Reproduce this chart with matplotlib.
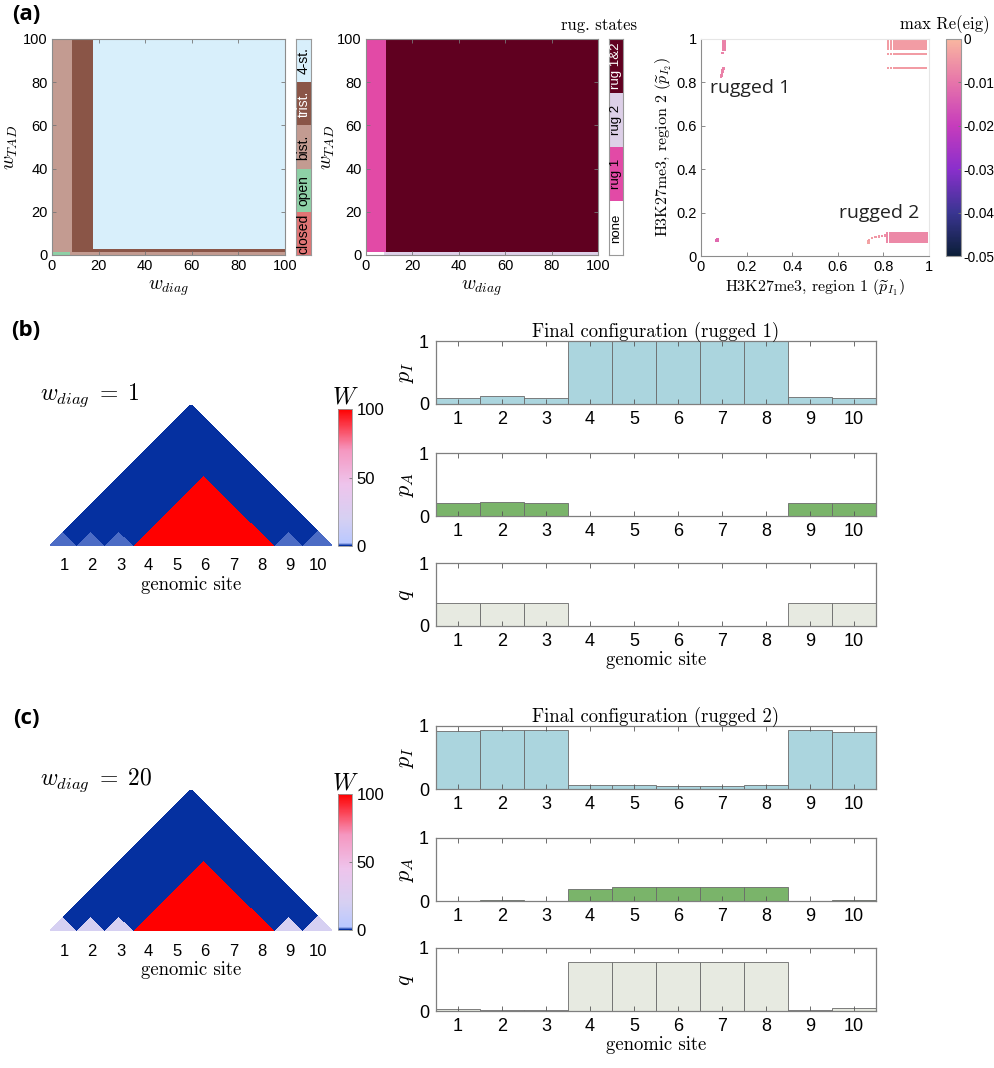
import numpy as np
import matplotlib
matplotlib.use('Agg')
import matplotlib.pyplot as plt
from matplotlib.colors import ListedColormap, BoundaryNorm, LinearSegmentedColormap, Normalize
from matplotlib.cm import ScalarMappable

plt.rcParams['mathtext.fontset'] = 'cm'
plt.rcParams['font.family'] = ['Liberation Sans', 'DejaVu Sans']
SERIF = 'cmr10'

# ---- (a) left: number of stable states over (w_diag, w_TAD)
st_names = ['closed', 'open', 'bist.', 'trist.', '4-st.']
st_colors = ['#e07575', '#8ed0a6', '#c39b91', '#8a5547', '#d8effb']
st_txt = ['k', 'k', 'k', 'w', 'k']
st_wdiag = [0, 7.7, 8.6, 17.6, 100]
st_wtad = [0, 1.4, 2.9, 100]
st_map = [[1, 2, 2, 2],
          [2, 2, 3, 3],
          [2, 2, 3, 4]]

# ---- (a) middle: rugged states
rug_names = ['none', 'rug 1', 'rug 2', 'rug 1&2']
rug_colors = ['#ffffff', '#e24aa6', '#ddd0e8', '#600020']
rug_txt = ['k', 'k', 'k', 'w']
rug_wdiag = [0, 7.9, 8.7, 100]
rug_wtad = [0, 1.4, 100]
rug_map = [[0, 2, 2],
           [1, 1, 3]]

# ---- (a) right: stable points (p_I1, p_I2) coloured by max Re(eig)
r1_x = [0.097, 0.103, 0.097, 0.103, 0.097, 0.103, 0.098, 0.103, 0.098, 0.103, 0.099, 0.104,
        0.095, 0.098, 0.096, 0.094, 0.092, 0.090, 0.088]
r1_y = [1.0, 1.0, 0.99, 0.99, 0.98, 0.98, 0.97, 0.97, 0.96, 0.96, 0.95, 0.95,
        0.935, 0.865, 0.857, 0.849, 0.841, 0.833, 0.826]
r1_c = -0.008
low_x = [0.068, 0.071, 0.072]
low_y = [0.071, 0.075, 0.069]
low_c = -0.012
arc_x = [0.735, 0.733, 0.738, 0.75, 0.765, 0.78, 0.795, 0.81]
arc_y = [0.062, 0.068, 0.075, 0.082, 0.087, 0.09, 0.093, 0.095]
arc_c = [-0.003, -0.003, -0.004, -0.004, -0.005, -0.005, -0.006, -0.006]
r2_cols = [0.815, 0.83, 0.84, 0.85, 0.86, 0.868, 0.875, 0.882, 0.889, 0.895, 0.9, 0.905, 0.91,
           0.915, 0.92, 0.925, 0.93, 0.935, 0.94, 0.945, 0.95, 0.955, 0.96, 0.965, 0.97,
           0.975, 0.98, 0.985, 0.99]
r2_rows = [0.064, 0.071, 0.078, 0.085, 0.092, 0.099, 0.105]
r2_c = -0.007
tr_cols = [0.82, 0.835, 0.845, 0.855, 0.865, 0.874, 0.882, 0.889, 0.895, 0.9, 0.905, 0.91,
           0.915, 0.92, 0.925, 0.93, 0.935, 0.94, 0.945, 0.95, 0.955, 0.96, 0.965, 0.97,
           0.975, 0.98, 0.985]
tr_rows = [0.865, 0.93, 0.952, 0.959, 0.966, 0.973, 0.98, 0.987, 0.994, 1.0]
tr_c = -0.004

# ---- (b), (c): interaction matrices and final configurations
sites = np.arange(1, 11)
tad_sites = [4, 5, 6, 7, 8]
w_tad = 100
w_diag_b = 1
w_diag_c = 20

pI_b = [0.10, 0.12, 0.10, 1.0, 1.0, 1.0, 1.0, 1.0, 0.11, 0.10]
pA_b = [0.21, 0.22, 0.20, 0, 0, 0, 0, 0, 0.20, 0.21]
q_b = [0.37, 0.37, 0.37, 0, 0, 0, 0, 0, 0.36, 0.36]
pI_c = [0.92, 0.94, 0.94, 0.06, 0.07, 0.05, 0.05, 0.07, 0.94, 0.91]
pA_c = [0.0, 0.01, 0.0, 0.19, 0.23, 0.22, 0.22, 0.22, 0.0, 0.01]
q_c = [0.03, 0.02, 0.02, 0.77, 0.77, 0.78, 0.77, 0.77, 0.02, 0.05]

W, H = 995, 1068
fig = plt.figure(figsize=(W / 100, H / 100), dpi=100)


def px_axes(x0, y0, x1, y1):
    return fig.add_axes([x0 / W, 1 - y1 / H, (x1 - x0) / W, (y1 - y0) / H])


def box_style(ax, size=10.5):
    for s in ax.spines.values():
        s.set_color('#8c8c8c')
        s.set_linewidth(0.8)
    ax.tick_params(direction='in', top=True, right=True, length=3, width=0.6,
                   color='#777777', labelsize=size, pad=3)


def cat_bar(cax, colors, names, txtc, fs=10):
    n = len(colors)
    cax.pcolormesh([0, 1], np.arange(n + 1), np.arange(n).reshape(-1, 1),
                   cmap=ListedColormap(colors), norm=BoundaryNorm(np.arange(-0.5, n + 0.5), n))
    for i, nm in enumerate(names):
        cax.text(0.5, i + 0.5, nm, rotation=90, ha='center', va='center', color=txtc[i], fontsize=fs)
    cax.set_xticks([])
    cax.set_yticks([])
    for s in cax.spines.values():
        s.set_color('#999999')
        s.set_linewidth(0.8)


# (a) left
ax = px_axes(52, 39, 285, 255)
ax.pcolormesh(st_wdiag, st_wtad, st_map, cmap=ListedColormap(st_colors),
              norm=BoundaryNorm(np.arange(-0.5, 5.5), 5))
ax.set_xlim(0, 100)
ax.set_ylim(0, 100)
ax.set_xticks(range(0, 101, 20))
ax.set_yticks(range(0, 101, 20))
box_style(ax)
ax.set_xlabel('$w_{diag}$', fontsize=14, labelpad=4)
ax.set_ylabel('$w_{TAD}$', fontsize=14, labelpad=2)
cat_bar(px_axes(296, 39, 311, 255), st_colors, st_names, st_txt)

# (a) middle
ax = px_axes(366, 39, 598, 255)
ax.pcolormesh(rug_wdiag, rug_wtad, rug_map, cmap=ListedColormap(rug_colors),
              norm=BoundaryNorm(np.arange(-0.5, 4.5), 4))
ax.set_xlim(0, 100)
ax.set_ylim(0, 100)
ax.set_xticks(range(0, 101, 20))
ax.set_yticks(range(0, 101, 20))
box_style(ax)
ax.set_xlabel('$w_{diag}$', fontsize=14, labelpad=4)
ax.set_ylabel('$w_{TAD}$', fontsize=14, labelpad=0)
cax = px_axes(609, 39, 623, 255)
cat_bar(cax, rug_colors, rug_names, rug_txt, fs=9.5)
fig.text(637 / W, 1 - 25 / H, 'rug. states', family=SERIF, fontsize=12, ha='right', va='center')

# (a) right
eig_cmap = LinearSegmentedColormap.from_list(
    'eig', ['#0b1e38', '#3a3592', '#8a2fcc', '#c63cbc', '#e674aa', '#f9b6a0'])
eig_norm = Normalize(-0.05, 0)
ax = px_axes(701, 39, 929, 256)
ms = 2.2
ax.scatter(r1_x, r1_y, c=[r1_c] * len(r1_x), cmap=eig_cmap, norm=eig_norm, s=4, marker='s', linewidths=0)
ax.scatter(low_x, low_y, c=[low_c] * len(low_x), cmap=eig_cmap, norm=eig_norm, s=4, marker='s', linewidths=0)
ax.scatter(arc_x, arc_y, c=arc_c, cmap=eig_cmap, norm=eig_norm, s=3, marker='s', linewidths=0)
gx, gy = np.meshgrid(r2_cols, r2_rows)
ax.scatter(gx.ravel(), gy.ravel(), c=np.full(gx.size, r2_c), cmap=eig_cmap, norm=eig_norm,
           s=ms, marker='s', linewidths=0)
gx, gy = np.meshgrid(tr_cols, tr_rows)
ax.scatter(gx.ravel(), gy.ravel(), c=np.full(gx.size, tr_c), cmap=eig_cmap, norm=eig_norm,
           s=ms, marker='s', linewidths=0)
ax.set_xlim(0, 1)
ax.set_ylim(0, 1)
ticks = [0, 0.2, 0.4, 0.6, 0.8, 1]
tlabs = ['0', '0.2', '0.4', '0.6', '0.8', '1']
ax.set_xticks(ticks, tlabs)
ax.set_yticks(ticks, tlabs)
box_style(ax)
ax.tick_params(top=False, right=False)
ax.spines['top'].set_color('#e6e6e6')
ax.spines['right'].set_color('#e6e6e6')
ax.text(0.04, 0.775, 'rugged 1', family='Open Sans', fontsize=14, color='#222222', va='center')
ax.text(0.605, 0.2, 'rugged 2', family='Open Sans', fontsize=14, color='#222222', va='center')
ax.set_xlabel(r'H3K27me3, region 1 ($\widetilde{p}_{I_1}$)', family=SERIF, fontsize=11.5, labelpad=2)
ax.set_ylabel(r'H3K27me3, region 2 ($\widetilde{p}_{I_2}$)', family=SERIF, fontsize=11.5, labelpad=2)
cax = px_axes(946, 39, 961, 256)
cb = fig.colorbar(ScalarMappable(norm=eig_norm, cmap=eig_cmap), cax=cax)
cb.set_ticks([0, -0.01, -0.02, -0.03, -0.04, -0.05], labels=['0', '-0.01', '-0.02', '-0.03', '-0.04', '-0.05'])
cb.ax.tick_params(direction='in', length=2.5, width=0.6, color='#777777', labelsize=9.8, pad=2)
cb.outline.set_edgecolor('#999999')
cb.outline.set_linewidth(0.8)
fig.text(990 / W, 1 - 25 / H, 'max Re(eig)', family=SERIF, fontsize=12, ha='right', va='center')

# W colormap
w_cmap = LinearSegmentedColormap.from_list(
    'w', [(0, '#0530a0'), (0.02, '#b9c8ff'), (0.2, '#d6d0f2'), (0.45, '#eec4ec'),
          (0.7, '#f597c0'), (1.0, '#ff0000')])


def w_matrix(w_diag):
    n = len(sites)
    m = np.zeros((n, n))
    np.fill_diagonal(m, w_diag)
    idx = [s - 1 for s in tad_sites]
    m[np.ix_(idx, idx)] = w_tad
    return m


def triangle(box, cbox, w_diag, title_xy):
    ax = px_axes(*box)
    m = w_matrix(w_diag)
    n = len(sites)
    a, b = np.meshgrid(np.arange(n + 1), np.arange(n + 1), indexing='ij')
    cm = np.ma.masked_where(np.tril(np.ones((n, n)), -1) > 0, m)
    ax.pcolormesh((a + b) / 2, (b - a) / 2, cm, cmap=w_cmap, vmin=0, vmax=100,
                  edgecolors='face', linewidth=0.3)
    ax.set_xlim(0, n)
    ax.set_ylim(0, n / 2)
    for s in ax.spines.values():
        s.set_visible(False)
    ax.set_yticks([])
    ax.set_xticks(sites - 0.5, [str(s) for s in sites])
    ax.tick_params(length=0, labelsize=12, pad=9)
    ax.set_xlabel('genomic site', family=SERIF, fontsize=13.5, labelpad=2)
    cax = px_axes(*cbox)
    cb = fig.colorbar(ScalarMappable(norm=Normalize(0, 100), cmap=w_cmap), cax=cax, ticks=[0, 50, 100])
    cb.ax.tick_params(direction='in', length=2.5, width=0.6, color='#777777', labelsize=12)
    cb.outline.set_edgecolor('#999999')
    cb.outline.set_linewidth(0.6)
    cb.ax.set_title('$W$', fontsize=17, pad=1)
    fig.text(title_xy[0] / W, 1 - title_xy[1] / H, r'$w_{diag}\;=\;%d$' % w_diag, fontsize=17,
             ha='left', va='center')


triangle((50, 405, 332, 546), (338, 409, 352, 546), w_diag_b, (40, 395))
triangle((50, 790, 332, 931), (338, 794, 352, 930), w_diag_c, (40, 780))

bar_x0, bar_x1 = 436, 876


def bar_panel(ytop, vals, color, ylab, last, title=None):
    ax = px_axes(bar_x0, ytop, bar_x1, ytop + 63)
    ax.bar(sites, vals, width=1, color=color, edgecolor='#6a6a6a', linewidth=0.6)
    ax.set_xlim(0.5, 10.5)
    ax.set_ylim(0, 1)
    ax.set_xticks(sites)
    ax.set_yticks([0, 1])
    for s in ax.spines.values():
        s.set_color('#7f7f7f')
        s.set_linewidth(0.9)
    ax.tick_params(direction='in', top=True, right=False, length=3.5, width=0.6,
                   color='#555555', labelsize=13, pad=5)
    ax.set_ylabel(ylab, fontsize=16, labelpad=2)
    if last:
        ax.set_xlabel('genomic site', family=SERIF, fontsize=13.5, labelpad=1)
    if title:
        ax.set_title(title, family=SERIF, fontsize=13.5, pad=3)


c_I, c_A, c_q = '#abd5de', '#7ab46a', '#e7eae1'
bar_panel(341, pI_b, c_I, '$p_I$', False, 'Final configuration (rugged 1)')
bar_panel(453, pA_b, c_A, '$p_A$', False)
bar_panel(563, q_b, c_q, '$q$', True)
bar_panel(726, pI_c, c_I, '$p_I$', False, 'Final configuration (rugged 2)')
bar_panel(838, pA_c, c_A, '$p_A$', False)
bar_panel(948, q_c, c_q, '$q$', True)

for lab, y in [('(a)', 14), ('(b)', 330), ('(c)', 718)]:
    fig.text(26 / W, 1 - y / H, lab, family='Open Sans', fontweight='bold', fontsize=16,
             ha='center', va='center')

fig.savefig('out.png', dpi=100)
